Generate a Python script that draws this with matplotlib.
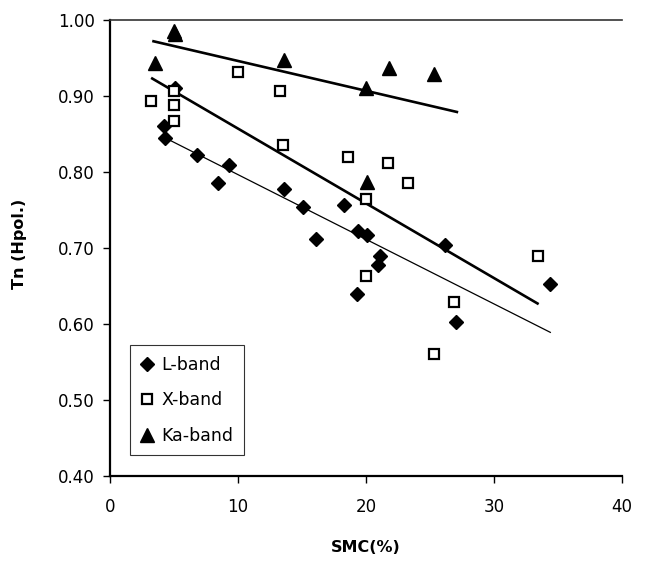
import matplotlib
matplotlib.use("Agg")
import matplotlib.pyplot as plt
import numpy as np

plt.rcParams['font.family'] = ['DejaVu Sans']

# L-band data
l_x = [4.2, 4.3, 5.1, 6.8, 8.4, 9.3, 13.6, 15.1, 16.1, 18.3, 19.3, 19.4, 20.1, 20.9, 21.1, 26.2, 27.0, 34.4]
l_y = [0.861, 0.845, 0.910, 0.822, 0.785, 0.809, 0.777, 0.754, 0.712, 0.757, 0.639, 0.722, 0.717, 0.678, 0.690, 0.704, 0.602, 0.652]

# X-band data
x_x = [3.2, 5.0, 5.0, 5.0, 10.0, 13.3, 13.5, 18.6, 20.0, 20.0, 21.7, 23.3, 25.3, 26.9, 33.4]
x_y = [0.893, 0.907, 0.888, 0.867, 0.932, 0.906, 0.835, 0.820, 0.765, 0.663, 0.812, 0.785, 0.561, 0.629, 0.689]

# Ka-band data
ka_x = [3.5, 5.0, 5.1, 13.6, 20.0, 20.1, 21.8, 25.3]
ka_y = [0.944, 0.985, 0.982, 0.947, 0.910, 0.787, 0.937, 0.929]

# Trend lines (endpoints)
ka_trend_x = [3.4, 27.1]
ka_trend_y = [0.972, 0.879]
x_trend_x = [3.3, 33.4]
x_trend_y = [0.923, 0.627]
l_trend_x = [4.3, 34.4]
l_trend_y = [0.845, 0.589]

x_ticks = [0, 10, 20, 30, 40]
y_ticks = [0.40, 0.50, 0.60, 0.70, 0.80, 0.90, 1.00]

fig = plt.figure(figsize=(6.52, 5.63), dpi=100)
ax = fig.add_axes([110/652, 1-476/563, 512/652, 456/563])

ax.plot(l_trend_x, l_trend_y, color='black', lw=0.9, zorder=2)
ax.plot(x_trend_x, x_trend_y, color='black', lw=1.9, zorder=2)
ax.plot(ka_trend_x, ka_trend_y, color='black', lw=1.9, zorder=2)

ax.plot(l_x, l_y, linestyle='none', marker='D', ms=7.2, color='black', label='L-band', zorder=3)
ax.plot(x_x, x_y, linestyle='none', marker='s', ms=7.2, mfc='white', mec='black', mew=1.6, label='X-band', zorder=3)
ax.plot(ka_x, ka_y, linestyle='none', marker='^', ms=9.5, color='black', label='Ka-band', zorder=3)

ax.set_xlim(0, 40)
ax.set_ylim(0.40, 1.00)
ax.set_xticks(x_ticks)
ax.set_xticklabels([str(t) for t in x_ticks])
ax.set_yticks(y_ticks)
ax.set_yticklabels([f"{t:.2f}" for t in y_ticks])
ax.tick_params(direction='out', length=5, width=1, labelsize=12, colors='black')
ax.tick_params(axis='x', pad=11)
ax.tick_params(axis='y', pad=6)

for s in ['left', 'bottom']:
    ax.spines[s].set_linewidth(1.6)
    ax.spines[s].set_color('black')
ax.spines['right'].set_visible(False)
ax.spines['top'].set_linewidth(1.2)
ax.spines['top'].set_color('#333333')

ax.set_xlabel('SMC(%)', fontsize=11.5, fontweight='bold', labelpad=17)
ax.set_ylabel('Tn (Hpol.)', fontsize=11.5, fontweight='bold')
ax.yaxis.set_label_coords(-0.163, 0.51)

leg = ax.legend(loc='lower left', bbox_to_anchor=(0.039, 0.046), borderaxespad=0,
                fontsize=12.5, frameon=True, fancybox=False, handlelength=0.8,
                handletextpad=0.4, labelspacing=1.0, borderpad=0.6)
leg.get_frame().set_edgecolor('black')
leg.get_frame().set_linewidth(0.8)

fig.savefig('out.png', dpi=100)
